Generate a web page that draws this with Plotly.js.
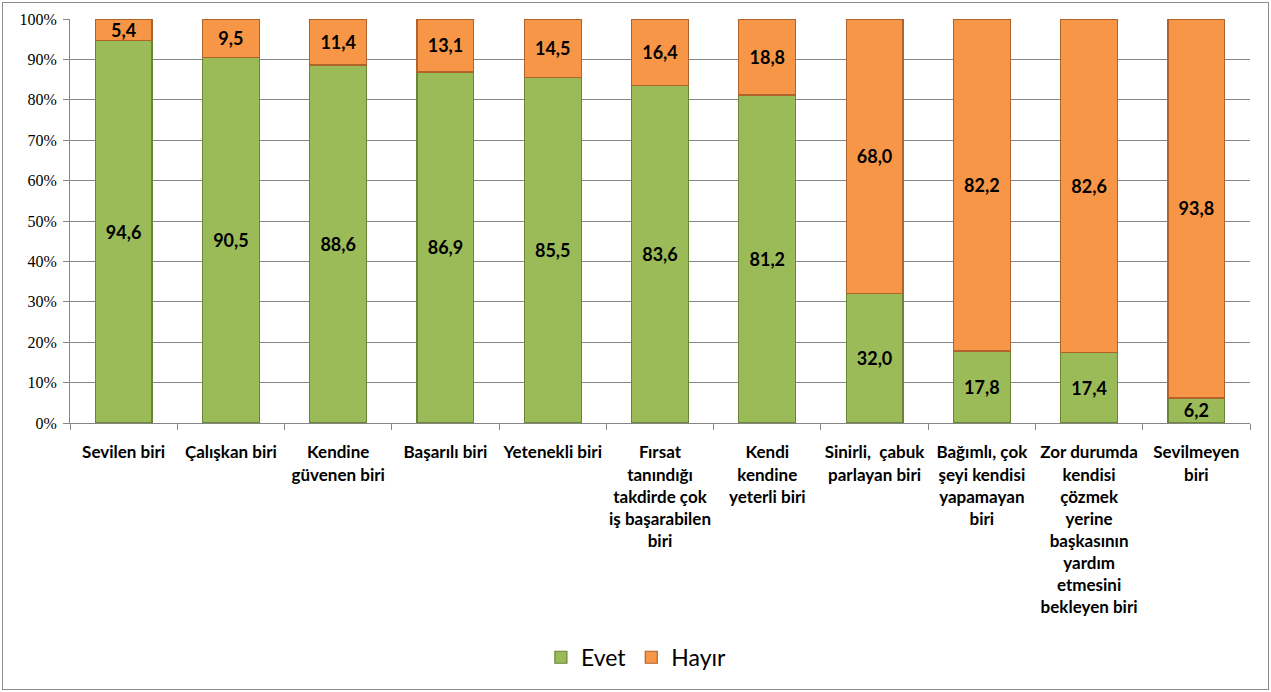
<!DOCTYPE html>
<html><head><meta charset="utf-8">
<script src="https://cdn.plot.ly/plotly-3.0.1.min.js"></script>
<style>
html,body{margin:0;padding:0;background:#fff;}
#wrap{position:relative;width:1271px;height:692px;}
#chart{width:1271px;height:692px;}
#border{position:absolute;left:2px;top:2px;width:1265px;height:686px;border:1px solid #8c8c8c;pointer-events:none;}
</style></head>
<body>
<div id="wrap"><div id="chart"></div><div id="border"></div></div>
<script>
const categories = [
  "Sevilen biri",
  "Çalışkan biri",
  "Kendine<br>güvenen biri",
  "Başarılı biri",
  "Yetenekli biri",
  "Fırsat<br>tanındığı<br>takdirde çok<br>iş başarabilen<br>biri",
  "Kendi<br>kendine<br>yeterli biri",
  "Sinirli,  çabuk<br>parlayan biri",
  "Bağımlı, çok<br>şeyi kendisi<br>yapamayan<br>biri",
  "Zor durumda<br>kendisi<br>çözmek<br>yerine<br>başkasının<br>yardım<br>etmesini<br>bekleyen biri",
  "Sevilmeyen<br>biri"
];
const evet  = [94.6, 90.5, 88.6, 86.9, 85.5, 83.6, 81.2, 32.0, 17.8, 17.4, 6.2];
const hayir = [5.4, 9.5, 11.4, 13.1, 14.5, 16.4, 18.8, 68.0, 82.2, 82.6, 93.8];
const seriesNames = ["Evet", "Hayır"];

const labelFont = {family: "Lato, 'Open Sans', sans-serif", size: 18, color: "#000", weight: "bold"};

const traces = [
  {type: "bar", name: seriesNames[0], x: categories, y: evet,
   marker: {color: "#9bbb59", line: {color: "#6a8536", width: 1.2}},
   texttemplate: "%{y:.1f}", textposition: "inside", insidetextanchor: "middle",
   constraintext: "none", textangle: 0, textfont: labelFont, hoverinfo: "skip"},
  {type: "bar", name: seriesNames[1], x: categories, y: hayir,
   marker: {color: "#f79646", line: {color: "#b0632a", width: 1.2}},
   texttemplate: "%{y:.1f}", textposition: "inside", insidetextanchor: "middle",
   constraintext: "none", textangle: 0, textfont: labelFont, hoverinfo: "skip"}
];

const layout = {
  width: 1271, height: 692,
  margin: {l: 70, r: 21, t: 19, b: 269},
  barmode: "stack", bargap: 0.47,
  separators: ",.",
  paper_bgcolor: "#fff", plot_bgcolor: "#fff",
  font: {family: "Lato, sans-serif", color: "#000"},
  xaxis: {
    type: "category",
    tickfont: {family: "Lato, 'Open Sans', sans-serif", size: 17, color: "#000", weight: "bold"},
    showline: true, linecolor: "#868686", linewidth: 1,
    ticks: "outside", tickson: "boundaries", ticklen: 6, tickcolor: "#868686",
    ticklabelstandoff: 14,
    tickangle: 0, automargin: false, showgrid: false
  },
  yaxis: {
    range: [0, 100], dtick: 10, ticksuffix: "%",
    tickfont: {family: "'Liberation Serif', serif", size: 16, color: "#000"},
    showline: true, linecolor: "#868686", linewidth: 1,
    ticks: "outside", ticklen: 6, tickcolor: "#868686", ticklabelstandoff: 3,
    showgrid: true, gridcolor: "#868686", gridwidth: 1,
    zeroline: false, automargin: false, fixedrange: true
  },
  showlegend: true,
  legend: {orientation: "h", x: 0.48, xanchor: "center", y: -0.58, yanchor: "middle",
           font: {family: "Lato, 'Open Sans', sans-serif", size: 23, color: "#000"},
           traceorder: "normal", itemwidth: 30}
};

Plotly.newPlot("chart", traces, layout, {displayModeBar: false, staticPlot: true});
</script>
</body></html>
